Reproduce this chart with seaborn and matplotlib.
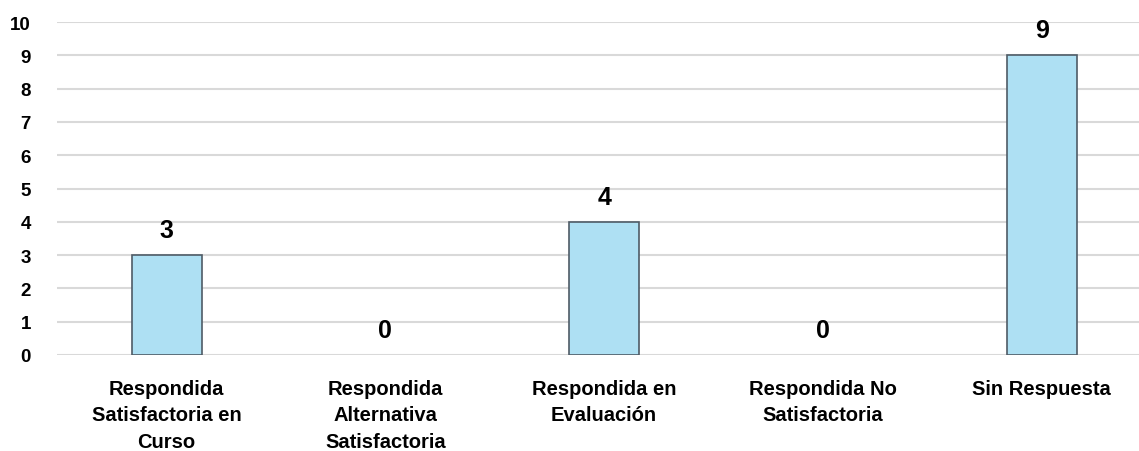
import matplotlib
matplotlib.use("Agg")
import matplotlib.pyplot as plt
import seaborn as sns
import pandas as pd

categories = [
    "Respondida\nSatisfactoria en\nCurso",
    "Respondida\nAlternativa\nSatisfactoria",
    "Respondida en\nEvaluación",
    "Respondida No\nSatisfactoria",
    "Sin Respuesta",
]
values = [3, 0, 4, 0, 9]
y_ticks = list(range(0, 11))

sns.set_theme(style="white")
plt.rcParams["font.family"] = ["Liberation Sans", "DejaVu Sans"]

df = pd.DataFrame({"estado": categories, "cantidad": values})

fig = plt.figure(figsize=(11.39, 4.52), dpi=100)
ax = fig.add_axes([0.0502, 0.2124, 0.9603, 0.7366])

sns.barplot(data=df, x="estado", y="cantidad", ax=ax, color="#aee0f3",
            saturation=1, width=0.32, edgecolor="#4f5b66", linewidth=1.2,
            zorder=3)

# empty categories get no visible outline
for patch in ax.patches:
    if patch.get_height() == 0:
        patch.set_linewidth(0)

ax.set_ylim(0, 10)
ax.set_yticks(y_ticks)
ax.yaxis.grid(True, color="#d9d9d9", linewidth=1.5, zorder=0)
ax.set_axisbelow(True)
for s in ax.spines.values():
    s.set_visible(False)
ax.set_xlabel("")
ax.set_ylabel("")
ax.tick_params(axis="y", length=0, pad=19, labelsize=13.5)
ax.tick_params(axis="x", length=0, pad=17, labelsize=14.5)
for lab in ax.get_yticklabels() + ax.get_xticklabels():
    lab.set_fontweight("bold")
    lab.set_color("black")
for lab in ax.get_xticklabels():
    lab.set_linespacing(1.52)

for i, v in enumerate(values):
    ax.annotate(str(v), (i, v), xytext=(0, 13), textcoords="offset points",
                ha="center", va="baseline", fontsize=18, fontweight="bold",
                color="black", annotation_clip=False)

fig.savefig("out.png", dpi=100)
